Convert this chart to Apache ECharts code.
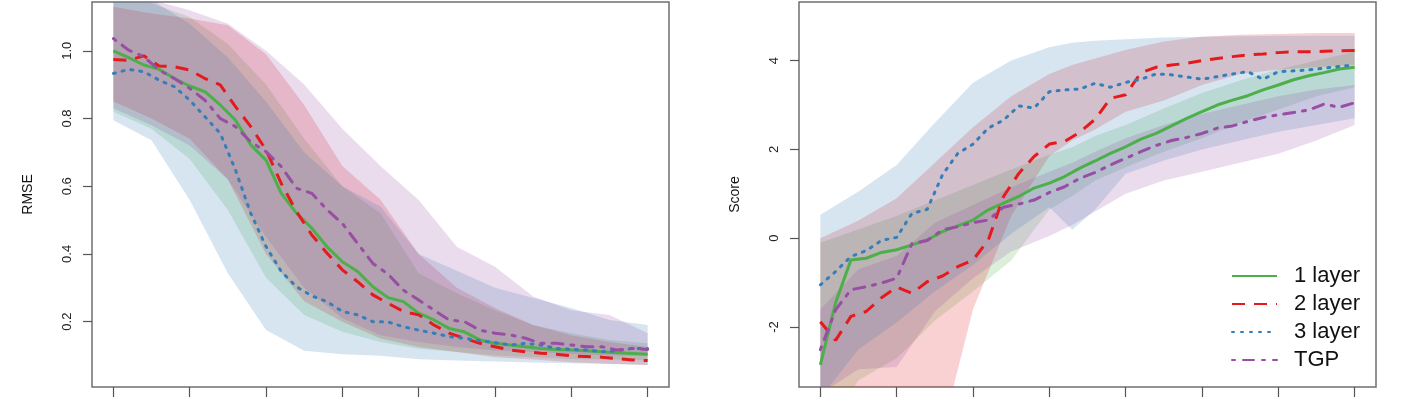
<!DOCTYPE html>
<html>
<head>
<meta charset="utf-8">
<script src="https://cdn.jsdelivr.net/npm/echarts@6/dist/echarts.min.js"></script>
<style>
  html, body { margin: 0; padding: 0; background: #fff; }
  #main { width: 1413px; height: 407px; }
</style>
</head>
<body>
<div id="main"></div>
<script>
// legend names
const names = ["1 layer", "2 layer", "3 layer", "TGP"];
// x ticks (no labels shown in the picture)
const xTicks = [0, 5, 10, 15, 20, 25, 30, 35];

// left panel: RMSE means, one value per step 0..35
const rmseLayer1 = [1.000, 0.980, 0.958, 0.945, 0.918, 0.896, 0.879, 0.840, 0.795, 0.722, 0.677, 0.579, 0.520, 0.476, 0.421, 0.377, 0.348, 0.303, 0.271, 0.259, 0.225, 0.205, 0.180, 0.170, 0.146, 0.136, 0.131, 0.126, 0.121, 0.118, 0.116, 0.114, 0.111, 0.108, 0.106, 0.104];
const rmseLayer2 = [0.974, 0.972, 0.985, 0.955, 0.953, 0.943, 0.918, 0.899, 0.835, 0.776, 0.707, 0.608, 0.525, 0.456, 0.402, 0.353, 0.318, 0.279, 0.254, 0.230, 0.220, 0.190, 0.166, 0.151, 0.136, 0.126, 0.116, 0.111, 0.107, 0.104, 0.099, 0.097, 0.095, 0.091, 0.087, 0.085];
const rmseLayer3 = [0.933, 0.945, 0.938, 0.913, 0.894, 0.854, 0.805, 0.756, 0.648, 0.520, 0.422, 0.348, 0.303, 0.276, 0.259, 0.230, 0.220, 0.200, 0.199, 0.185, 0.175, 0.166, 0.156, 0.151, 0.144, 0.138, 0.131, 0.136, 0.131, 0.121, 0.118, 0.116, 0.111, 0.114, 0.121, 0.121];
const rmseTgp = [1.036, 1.002, 0.982, 0.943, 0.918, 0.889, 0.854, 0.800, 0.776, 0.731, 0.702, 0.658, 0.594, 0.579, 0.530, 0.490, 0.431, 0.372, 0.340, 0.293, 0.264, 0.234, 0.205, 0.200, 0.175, 0.166, 0.161, 0.151, 0.136, 0.136, 0.131, 0.126, 0.126, 0.116, 0.121, 0.118];

// left panel: shaded bands
const rmseBandX = [0, 2.5, 5, 7.5, 10, 12.5, 15, 17.5, 20, 22.5, 25, 27.5, 30, 32.5, 35];
const rmseBand1Lo = [0.82, 0.77, 0.68, 0.53, 0.33, 0.22, 0.17, 0.14, 0.12, 0.11, 0.10, 0.095, 0.09, 0.088, 0.085];
const rmseBand1Hi = [1.18, 1.14, 1.10, 1.02, 0.90, 0.74, 0.60, 0.52, 0.343, 0.284, 0.234, 0.19, 0.166, 0.146, 0.136];
const rmseBand2Lo = [0.85, 0.80, 0.74, 0.62, 0.40, 0.26, 0.20, 0.15, 0.125, 0.11, 0.095, 0.088, 0.08, 0.076, 0.072];
const rmseBand2Hi = [1.13, 1.11, 1.095, 1.075, 0.99, 0.84, 0.66, 0.56, 0.40, 0.30, 0.24, 0.19, 0.16, 0.14, 0.125];
const rmseBand3Lo = [0.795, 0.736, 0.559, 0.343, 0.175, 0.114, 0.104, 0.099, 0.089, 0.085, 0.082, 0.079, 0.077, 0.075, 0.072];
const rmseBand3Hi = [1.20, 1.15, 1.08, 0.98, 0.85, 0.70, 0.60, 0.54, 0.40, 0.35, 0.30, 0.27, 0.24, 0.205, 0.19];
const rmseBandTgpLo = [0.83, 0.78, 0.72, 0.62, 0.45, 0.30, 0.21, 0.16, 0.14, 0.125, 0.115, 0.11, 0.105, 0.10, 0.10];
const rmseBandTgpHi = [1.16, 1.15, 1.12, 1.08, 1.00, 0.90, 0.77, 0.66, 0.559, 0.421, 0.362, 0.274, 0.234, 0.22, 0.166];

// right panel: Score means
const scoreLayer1 = [-2.85, -1.45, -0.49, -0.45, -0.32, -0.26, -0.15, -0.04, 0.15, 0.28, 0.41, 0.64, 0.79, 0.94, 1.13, 1.24, 1.39, 1.58, 1.74, 1.91, 2.06, 2.23, 2.36, 2.53, 2.70, 2.85, 3.00, 3.11, 3.21, 3.34, 3.45, 3.57, 3.66, 3.73, 3.81, 3.85];
const scoreLayer2 = [-1.88, -2.30, -1.76, -1.65, -1.34, -1.10, -1.24, -0.98, -0.85, -0.64, -0.49, -0.04, 0.94, 1.46, 1.84, 2.12, 2.18, 2.39, 2.68, 3.15, 3.23, 3.73, 3.85, 3.90, 3.94, 4.00, 4.05, 4.09, 4.13, 4.15, 4.18, 4.20, 4.20, 4.21, 4.22, 4.23];
const scoreLayer3 = [-1.05, -0.75, -0.41, -0.28, -0.05, 0.02, 0.56, 0.65, 1.43, 1.91, 2.12, 2.48, 2.66, 2.98, 2.93, 3.30, 3.34, 3.36, 3.49, 3.40, 3.51, 3.58, 3.70, 3.68, 3.63, 3.58, 3.64, 3.70, 3.75, 3.58, 3.75, 3.77, 3.79, 3.83, 3.87, 3.90];
const scoreTgp = [-2.51, -1.61, -1.16, -1.09, -1.01, -0.90, -0.12, -0.05, 0.19, 0.26, 0.35, 0.41, 0.70, 0.77, 0.86, 1.03, 1.16, 1.35, 1.48, 1.65, 1.80, 1.95, 2.09, 2.20, 2.27, 2.36, 2.48, 2.53, 2.63, 2.72, 2.78, 2.83, 2.89, 3.02, 2.95, 3.05];

// right panel: shaded bands
const scoreBandX = [0, 2.5, 5, 7.5, 10, 12.5, 15, 16.5, 18, 20, 22.5, 25, 27.5, 30, 32.5, 35];
const scoreBand1Lo = [-4.5, -3.2, -2.7, -1.85, -1.2, -0.5, 0.65, 0.95, 1.3, 1.6, 1.95, 2.25, 2.6, 2.9, 3.2, 3.4];
const scoreBand1Hi = [-0.1, 0.2, 0.5, 0.85, 1.2, 1.55, 1.88, 2.05, 2.3, 2.55, 2.92, 3.27, 3.55, 3.8, 4.0, 4.2];
const scoreBand2Lo = [-8, -8, -7, -5, -1.6, 0.5, 1.85, 2.2, 2.45, 2.85, 3.1, 3.45, 3.7, 3.8, 3.85, 3.9];
const scoreBand2Hi = [0.0, 0.4, 0.9, 1.7, 2.5, 3.2, 3.7, 3.9, 4.05, 4.24, 4.43, 4.54, 4.58, 4.6, 4.62, 4.62];
const scoreBand3Lo = [-3.6, -2.5, -1.9, -1.2, -0.6, 0.1, 0.7, 0.19, 0.65, 1.45, 1.75, 2.0, 2.2, 2.4, 2.55, 2.7];
const scoreBand3Hi = [0.53, 1.05, 1.65, 2.6, 3.5, 4.0, 4.3, 4.4, 4.45, 4.48, 4.52, 4.54, 4.55, 4.56, 4.56, 4.56];
const scoreBandTgpLo = [-3.5, -2.95, -2.9, -1.65, -0.9, -0.3, 0.05, 0.3, 0.6, 1.0, 1.3, 1.5, 1.7, 1.9, 2.2, 2.55];
const scoreBandTgpHi = [-1.6, -0.7, -0.4, 0.35, 0.75, 1.15, 1.5, 1.7, 1.95, 2.25, 2.55, 2.8, 3.0, 3.2, 3.35, 3.45];

const colors = ["#4DAF4A", "#E41A1C", "#377EB8", "#984EA3"];
const dashes = ["solid", [13, 9], [2, 7], [3, 8, 11, 8]];
const caps = ["butt", "butt", "round", "round"];
const font = "Liberation Sans";

// 均值曲线
function lineSeries(k, values, idx) {
  return {
    name: names[k],
    type: "line",
    xAxisIndex: idx,
    yAxisIndex: idx,
    data: values.map((v, i) => [i, v]),
    symbol: "none",
    z: 5,
    lineStyle: { color: colors[k], width: 3, type: dashes[k], cap: caps[k] },
    itemStyle: { color: colors[k] },
  };
}

// 阴影区间：上界正向 + 下界反向拼成一个多边形
function bandSeries(k, xs, lo, hi, idx) {
  return {
    type: "custom",
    xAxisIndex: idx,
    yAxisIndex: idx,
    clip: true,
    silent: true,
    z: 1,
    data: xs.map((x, i) => [x, lo[i], hi[i]]),
    encode: { x: 0, y: [1, 2] },
    renderItem: (params, api) => {
      if (params.dataIndex !== 0) return null;
      const top = xs.map((x, i) => api.coord([x, hi[i]]));
      const bottom = xs.map((x, i) => api.coord([x, lo[i]])).reverse();
      return {
        type: "polygon",
        shape: { points: top.concat(bottom) },
        style: { fill: colors[k], opacity: 0.2 },
      };
    },
  };
}

function xAxis(idx) {
  return {
    type: "value",
    gridIndex: idx,
    min: -1.4,
    max: 36.4,
    axisLine: { show: false, onZero: false },
    splitLine: { show: false },
    axisTick: { show: true, length: 10, customValues: xTicks, lineStyle: { color: "#555", width: 1.2 } },
    axisLabel: { show: false, customValues: xTicks },
  };
}

function yAxis(idx, name, min, max, ticks, digits) {
  return {
    type: "value",
    gridIndex: idx,
    name: name,
    nameLocation: "middle",
    nameRotate: 90,
    nameGap: 57,
    nameTextStyle: { fontFamily: font, fontSize: 14, color: "#111" },
    min: min,
    max: max,
    axisLine: { show: false, onZero: false },
    splitLine: { show: false },
    axisTick: { show: true, length: 9, customValues: ticks, lineStyle: { color: "#555", width: 1.2 } },
    axisLabel: {
      customValues: ticks,
      rotate: 90,
      margin: 18,
      fontFamily: font,
      fontSize: 13,
      color: "#222",
      formatter: (v) => v.toFixed(digits),
    },
  };
}

const chart = echarts.init(document.getElementById("main"));

const series = [];
[
  [rmseBand1Lo, rmseBand1Hi],
  [rmseBand2Lo, rmseBand2Hi],
  [rmseBand3Lo, rmseBand3Hi],
  [rmseBandTgpLo, rmseBandTgpHi],
].forEach((b, k) => series.push(bandSeries(k, rmseBandX, b[0], b[1], 0)));
[
  [scoreBand1Lo, scoreBand1Hi],
  [scoreBand2Lo, scoreBand2Hi],
  [scoreBand3Lo, scoreBand3Hi],
  [scoreBandTgpLo, scoreBandTgpHi],
].forEach((b, k) => series.push(bandSeries(k, scoreBandX, b[0], b[1], 1)));
[rmseLayer1, rmseLayer2, rmseLayer3, rmseTgp].forEach((v, k) => series.push(lineSeries(k, v, 0)));
[scoreLayer1, scoreLayer2, scoreLayer3, scoreTgp].forEach((v, k) => series.push(lineSeries(k, v, 1)));

chart.setOption({
  animation: false,
  backgroundColor: "#fff",
  grid: [
    { left: 92, top: 2, width: 577, height: 385, show: true, borderColor: "#6f6f6f", borderWidth: 1.5, backgroundColor: "transparent" },
    { left: 799, top: 2, width: 577, height: 385, show: true, borderColor: "#6f6f6f", borderWidth: 1.5, backgroundColor: "transparent" },
  ],
  xAxis: [xAxis(0), xAxis(1)],
  yAxis: [
    yAxis(0, "RMSE", 0.007, 1.144, [0.2, 0.4, 0.6, 0.8, 1.0], 1),
    yAxis(1, "Score", -3.35, 5.32, [-2, 0, 2, 4], 0),
  ],
  legend: {
    data: names,
    orient: "vertical",
    left: 1226,
    top: 260,
    itemWidth: 45,
    itemHeight: 14,
    itemGap: 6,
    itemStyle: { opacity: 0 },
    textStyle: { fontFamily: font, fontSize: 22, lineHeight: 20, color: "#111", padding: [0, 0, 0, 12] },
  },
  series: series,
});
</script>
</body>
</html>
